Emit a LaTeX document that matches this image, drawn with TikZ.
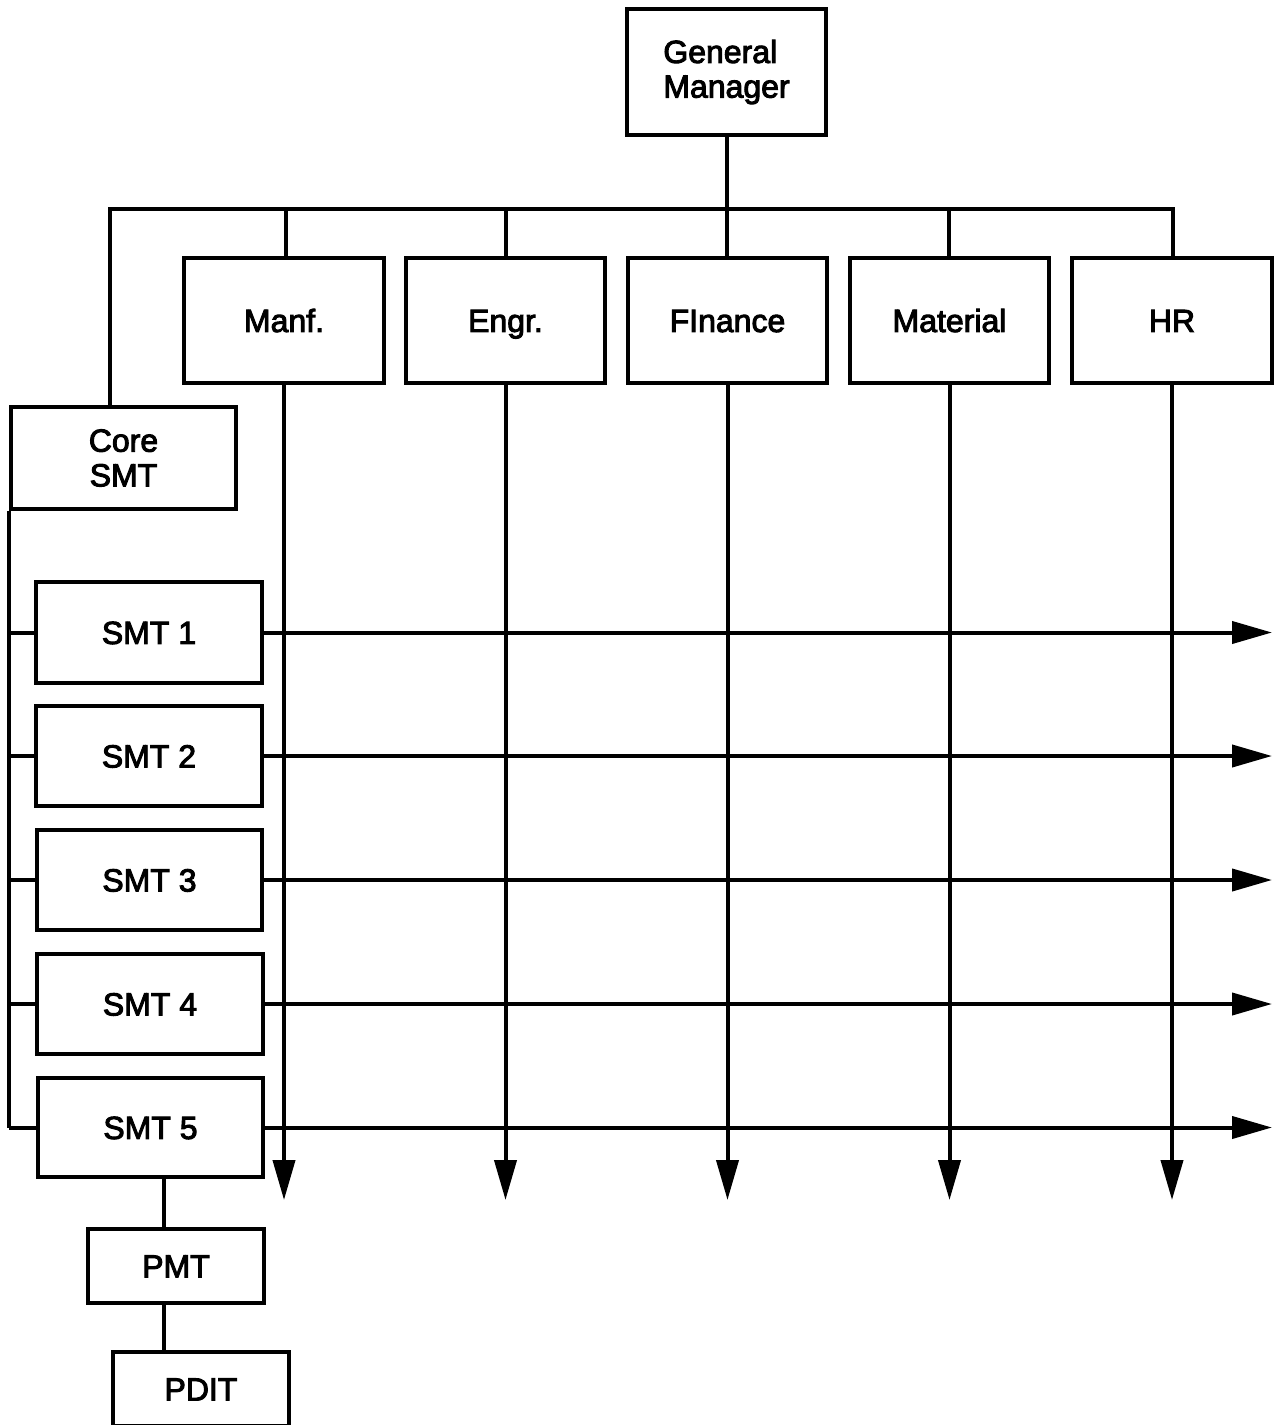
\documentclass[tikz,border=0pt]{standalone}
\usepackage{fontspec}
\setmainfont{Liberation Sans}[FakeBold=3]
\usetikzlibrary{arrows.meta}
\tikzset{
  box/.style={draw, line width=3pt, inner sep=0pt, align=center,
    font=\fontsize{24}{26}\selectfont},
  oneline/.style={text height=17.2pt, text depth=0pt},
  conn/.style={line width=3pt},
  arr/.style={line width=3pt, -{Triangle[length=30pt,width=16.5pt]}}
}
\begin{document}
\begin{tikzpicture}[x=0.75pt, y=-0.75pt]
\useasboundingbox (0,0) rectangle (1277,1425);
% top
\node[box, minimum width=149.25pt, minimum height=94.5pt, align=left] (gm) at (726.5,72) {General\\Manager};
% departments
\node[box, oneline, minimum width=150pt, minimum height=93.75pt] (manf) at (284,320.5) {Manf.};
\node[box, oneline, minimum width=149.25pt, minimum height=93.75pt] (engr) at (505.5,320.5) {Engr.};
\node[box, oneline, minimum width=149.25pt, minimum height=93.75pt] (fin) at (727.5,320.5) {FInance};
\node[box, oneline, minimum width=149.25pt, minimum height=93.75pt] (mat) at (949.5,320.5) {Material};
\node[box, oneline, minimum width=150pt, minimum height=93.75pt] (hr) at (1172,320.5) {HR};
% core and teams
\node[box, minimum width=168.75pt, minimum height=76.5pt] (core) at (123.5,458) {Core\\SMT};
\node[box, oneline, minimum width=169.5pt, minimum height=75.75pt] (s1) at (149,632.5) {SMT 1};
\node[box, oneline, minimum width=169.5pt, minimum height=75pt] (s2) at (149,756) {SMT 2};
\node[box, oneline, minimum width=168.75pt, minimum height=75pt] (s3) at (149.5,880) {SMT 3};
\node[box, oneline, minimum width=169.5pt, minimum height=75pt] (s4) at (150,1004) {SMT 4};
\node[box, oneline, minimum width=168.75pt, minimum height=74.25pt] (s5) at (150.5,1127.5) {SMT 5};
\node[box, oneline, minimum width=132pt, minimum height=55.5pt] (pmt) at (176,1266) {PMT};
\node[box, oneline, minimum width=132pt, minimum height=55.5pt] (pdit) at (201,1389) {PDIT};
% helper coordinates
\coordinate (busL) at (110,209);
\coordinate (busR) at (1173,209);
\coordinate (bot) at (0,1200);
\coordinate (right) at (1272,0);
\coordinate (pl) at (164,0);
% tree lines
\draw[conn] (gm.south) -- (gm.south |- busL);
\draw[conn, line cap=rect] (busL |- core.north) -- (busL) -- (busR) -- (busR |- hr.north);
\foreach \x in {286, 506, 727, 949}{
  \draw[conn] (\x,209) -- (\x,258);
}
% left bus
\draw[conn] (core.south west) -- (core.south west |- s5.west);
\foreach \n in {s1,s2,s3,s4,s5}{
  \draw[conn] (core.south west |- \n.west) -- (\n.west);
}
% vertical arrows
\foreach \n in {manf,engr,fin,mat,hr}{
  \draw[arr] (\n.south) -- (\n.south |- bot);
}
% horizontal arrows
\foreach \n in {s1,s2,s3,s4,s5}{
  \draw[arr] (\n.east) -- (\n.east -| right);
}
% PMT / PDIT
\draw[conn] (s5.south -| pl) -- (pmt.north -| pl);
\draw[conn] (pmt.south -| pl) -- (pdit.north -| pl);
\end{tikzpicture}
\end{document}
